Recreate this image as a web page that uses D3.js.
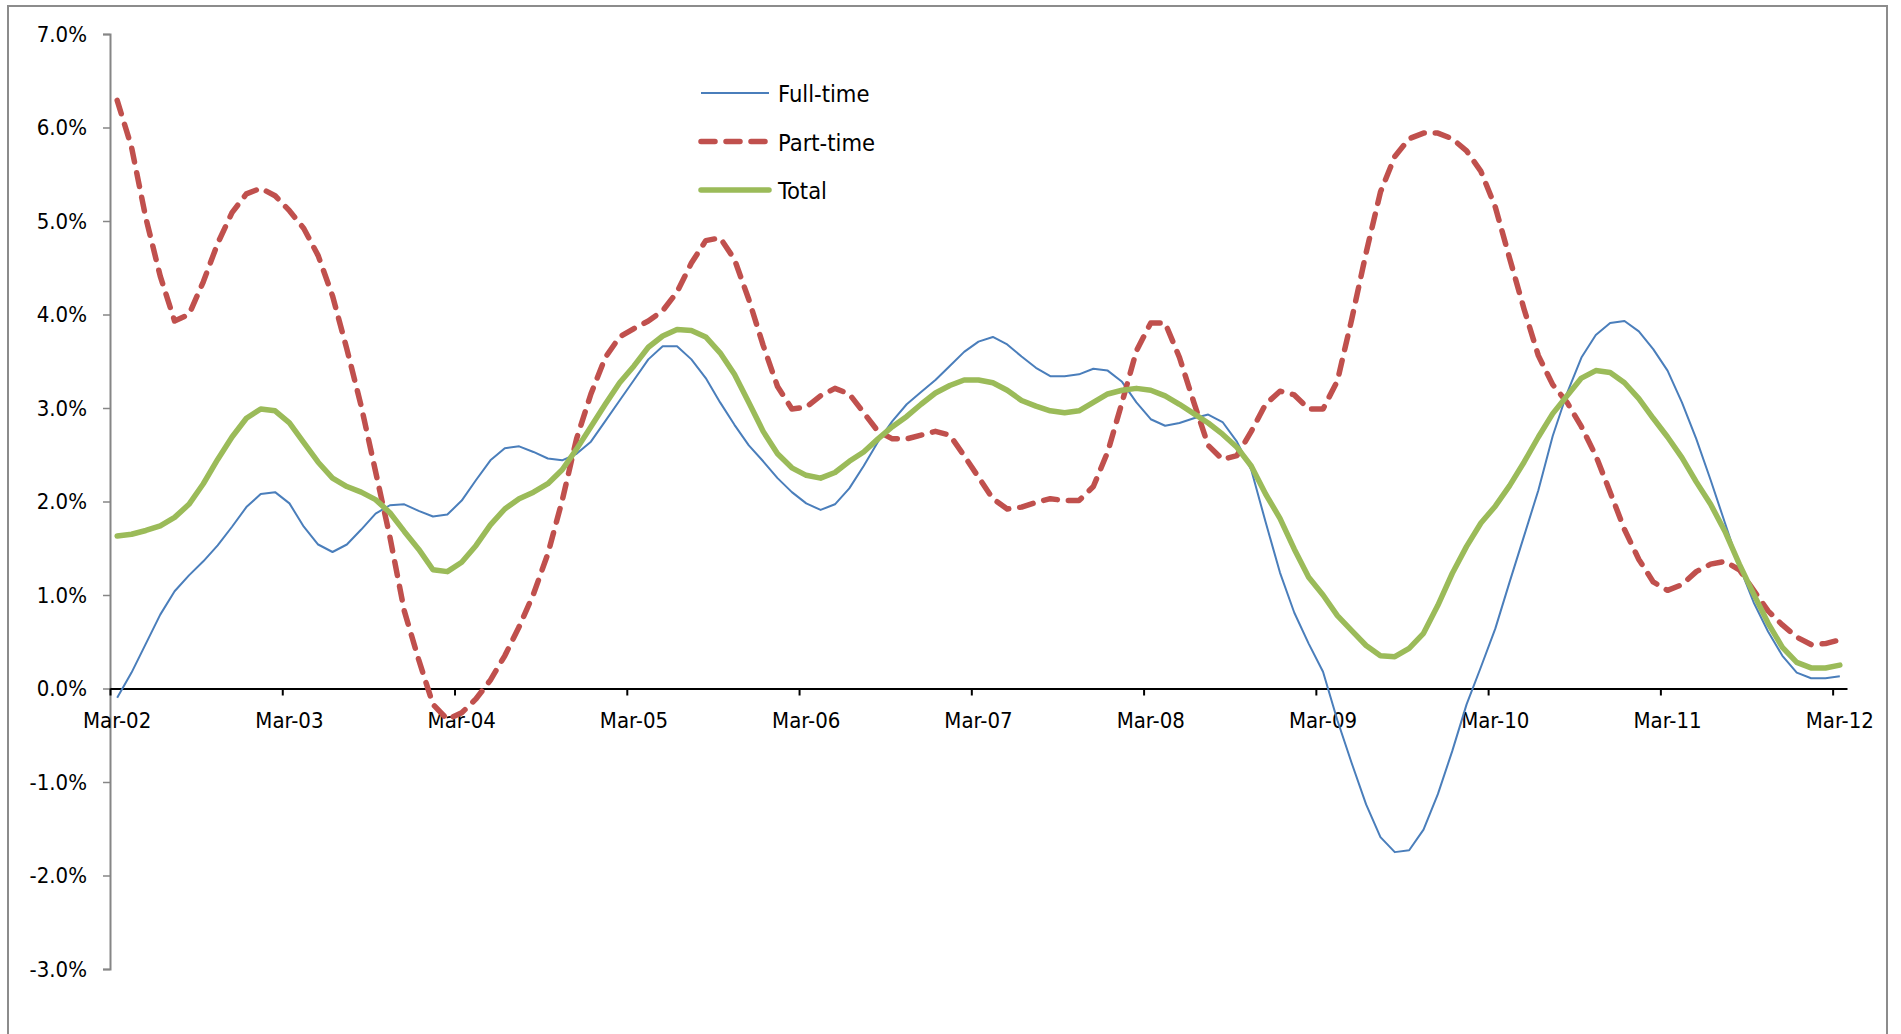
<!DOCTYPE html>
<html>
<head>
<meta charset="utf-8">
<script src="https://cdn.jsdelivr.net/npm/d3@7"></script>
<style>
  body { margin: 0; background: #fff; }
  svg text { font-family: "DejaVu Sans Condensed", "DejaVu Sans", sans-serif; font-stretch: condensed; fill: #000; }
</style>
</head>
<body>
<div id="chart"></div>
<script>
// monthly, Mar-02 .. Mar-12 (121 points), annual % change
var tickLabels = ["Mar-02","Mar-03","Mar-04","Mar-05","Mar-06","Mar-07","Mar-08","Mar-09","Mar-10","Mar-11","Mar-12"];
var yTicks = [-3,-2,-1,0,1,2,3,4,5,6,7];

var fullTime = [
  -0.10, 0.17, 0.48, 0.79, 1.04, 1.21, 1.36, 1.53, 1.73, 1.94,
  2.08, 2.10, 1.98, 1.73, 1.54, 1.46, 1.54, 1.70, 1.87, 1.96,
  1.97, 1.90, 1.84, 1.86, 2.01, 2.23, 2.44, 2.57, 2.59, 2.53,
  2.46, 2.44, 2.51, 2.64, 2.86, 3.08, 3.30, 3.52, 3.66, 3.66,
  3.52, 3.32, 3.06, 2.82, 2.60, 2.43, 2.25, 2.10, 1.98, 1.91,
  1.97, 2.14, 2.38, 2.64, 2.86, 3.04, 3.17, 3.30, 3.45, 3.60,
  3.71, 3.76, 3.68, 3.55, 3.43, 3.34, 3.34, 3.36, 3.42, 3.40,
  3.28, 3.06, 2.88, 2.81, 2.84, 2.89, 2.93, 2.85, 2.64, 2.34,
  1.78, 1.24, 0.81, 0.48, 0.18, -0.34, -0.80, -1.24, -1.59, -1.75,
  -1.73, -1.51, -1.13, -0.67, -0.17, 0.23, 0.64, 1.14, 1.63, 2.12,
  2.70, 3.16, 3.54, 3.78, 3.91, 3.93, 3.82, 3.63, 3.40, 3.06,
  2.67, 2.23, 1.77, 1.31, 0.92, 0.61, 0.35, 0.17, 0.11, 0.11,
  0.13
];

var partTime = [
  6.29, 5.79, 5.03, 4.41, 3.93, 4.00, 4.35, 4.76, 5.09, 5.29,
  5.35, 5.27, 5.11, 4.92, 4.63, 4.20, 3.63, 3.02, 2.32, 1.62,
  0.83, 0.31, -0.17, -0.33, -0.26, -0.11, 0.09, 0.35, 0.66, 1.01,
  1.44, 2.01, 2.67, 3.15, 3.54, 3.76, 3.85, 3.93, 4.04, 4.24,
  4.55, 4.79, 4.82, 4.59, 4.16, 3.67, 3.23, 2.99, 3.01, 3.13,
  3.21, 3.15, 2.95, 2.75, 2.67, 2.67, 2.71, 2.75, 2.71, 2.49,
  2.26, 2.03, 1.92, 1.94, 1.99, 2.03, 2.01, 2.01, 2.16, 2.53,
  3.06, 3.61, 3.91, 3.91, 3.54, 3.06, 2.60, 2.45, 2.49, 2.75,
  3.04, 3.18, 3.14, 2.99, 2.99, 3.29, 3.95, 4.66, 5.31, 5.69,
  5.88, 5.94, 5.94, 5.88, 5.75, 5.53, 5.15, 4.60, 4.06, 3.56,
  3.25, 3.06, 2.80, 2.49, 2.10, 1.70, 1.38, 1.14, 1.05, 1.11,
  1.25, 1.33, 1.36, 1.27, 1.05, 0.83, 0.68, 0.55, 0.47, 0.48,
  0.52
];

var total = [
  1.63, 1.65, 1.69, 1.74, 1.83, 1.97, 2.19, 2.45, 2.69, 2.89,
  2.99, 2.97, 2.84, 2.63, 2.42, 2.25, 2.16, 2.10, 2.02, 1.88,
  1.68, 1.49, 1.27, 1.25, 1.35, 1.53, 1.75, 1.92, 2.03, 2.10,
  2.19, 2.34, 2.56, 2.80, 3.04, 3.27, 3.45, 3.65, 3.77, 3.84,
  3.83, 3.76, 3.59, 3.36, 3.06, 2.75, 2.51, 2.36, 2.28, 2.25,
  2.31, 2.43, 2.53, 2.67, 2.80, 2.91, 3.04, 3.16, 3.24, 3.30,
  3.30, 3.27, 3.19, 3.08, 3.02, 2.97, 2.95, 2.97, 3.06, 3.15,
  3.19, 3.21, 3.19, 3.13, 3.04, 2.94, 2.84, 2.72, 2.58, 2.38,
  2.08, 1.82, 1.49, 1.19, 1.00, 0.78, 0.62, 0.46, 0.35, 0.34,
  0.43, 0.59, 0.89, 1.23, 1.52, 1.77, 1.95, 2.17, 2.42, 2.69,
  2.94, 3.13, 3.32, 3.40, 3.38, 3.27, 3.10, 2.89, 2.69, 2.47,
  2.21, 1.97, 1.68, 1.33, 1.01, 0.70, 0.44, 0.28, 0.22, 0.22,
  0.25
];

var seriesNames = ["Full-time", "Part-time", "Total"];

var width = 1901, height = 1034;
var n = fullTime.length;

var svg = d3.select("#chart").append("svg")
  .attr("width", width)
  .attr("height", height);

// outer chart border
svg.append("rect")
  .attr("x", 8).attr("y", 6)
  .attr("width", 1879).attr("height", 1060)
  .attr("fill", "none")
  .attr("stroke", "#8c8c8c")
  .attr("stroke-width", 2);

var x = d3.scaleLinear().domain([0, n]).range([110, 1847]);
var y = d3.scaleLinear().domain([-3, 7]).range([969, 34]);

// y axis (plain hyphen for the minus sign, like the original)
var yAxis = svg.append("g")
  .attr("transform", "translate(110,0)")
  .call(d3.axisLeft(y).tickValues(yTicks).tickSize(7).tickPadding(16)
    .tickFormat(function(d) { return d.toFixed(1) + "%"; }));
yAxis.select(".domain").attr("stroke", "#868686").attr("stroke-width", 2);
yAxis.selectAll(".tick line").attr("stroke", "#868686").attr("stroke-width", 1.5);
yAxis.selectAll("text").style("font-size", "22px").attr("fill", "#000");

// x axis at zero, ticks every 12 months on category boundaries
var xAxis = svg.append("g")
  .attr("transform", "translate(0," + y(0) + ")")
  .call(d3.axisBottom(x).tickValues(tickLabels.map(function(d, i) { return i * 12; }))
    .tickSize(7).tickSizeOuter(0).tickFormat(""));
xAxis.select(".domain").attr("stroke", "#000").attr("stroke-width", 2);
xAxis.selectAll(".tick line").attr("stroke", "#000").attr("stroke-width", 2);

svg.append("g").selectAll("text")
  .data(tickLabels)
  .enter().append("text")
  .attr("x", function(d, i) { return x(i * 12 + 0.5); })
  .attr("y", y(0) + 39)
  .attr("text-anchor", "middle")
  .style("font-size", "22px")
  .text(function(d) { return d; });

var line = d3.line()
  .x(function(d, i) { return x(i + 0.5); })
  .y(function(d) { return y(d); });

var styles = [
  { color: "#4a7ebb", w: 2, dash: null },
  { color: "#c0504d", w: 5.5, dash: "14 11" },
  { color: "#9bbb59", w: 5.5, dash: null }
];
var data = [fullTime, partTime, total];

data.forEach(function(s, k) {
  svg.append("path")
    .datum(s)
    .attr("d", line)
    .attr("fill", "none")
    .attr("stroke", styles[k].color)
    .attr("stroke-width", styles[k].w)
    .attr("stroke-dasharray", styles[k].dash)
    .attr("stroke-linecap", k == 0 ? "butt" : "round")
    .attr("stroke-linejoin", "round");
});

// legend
var legend = svg.append("g").selectAll("g")
  .data(seriesNames)
  .enter().append("g")
  .attr("transform", function(d, i) { return "translate(0," + (93 + i * 48.5) + ")"; });

legend.append("line")
  .attr("x1", 701).attr("x2", 769)
  .attr("stroke", function(d, i) { return styles[i].color; })
  .attr("stroke-width", function(d, i) { return styles[i].w; })
  .attr("stroke-dasharray", function(d, i) { return styles[i].dash; })
  .attr("stroke-linecap", function(d, i) { return i == 0 ? "butt" : "round"; });

legend.append("text")
  .attr("x", 778)
  .attr("y", 9)
  .style("font-size", "23.5px")
  .text(function(d) { return d; });
</script>
</body>
</html>
